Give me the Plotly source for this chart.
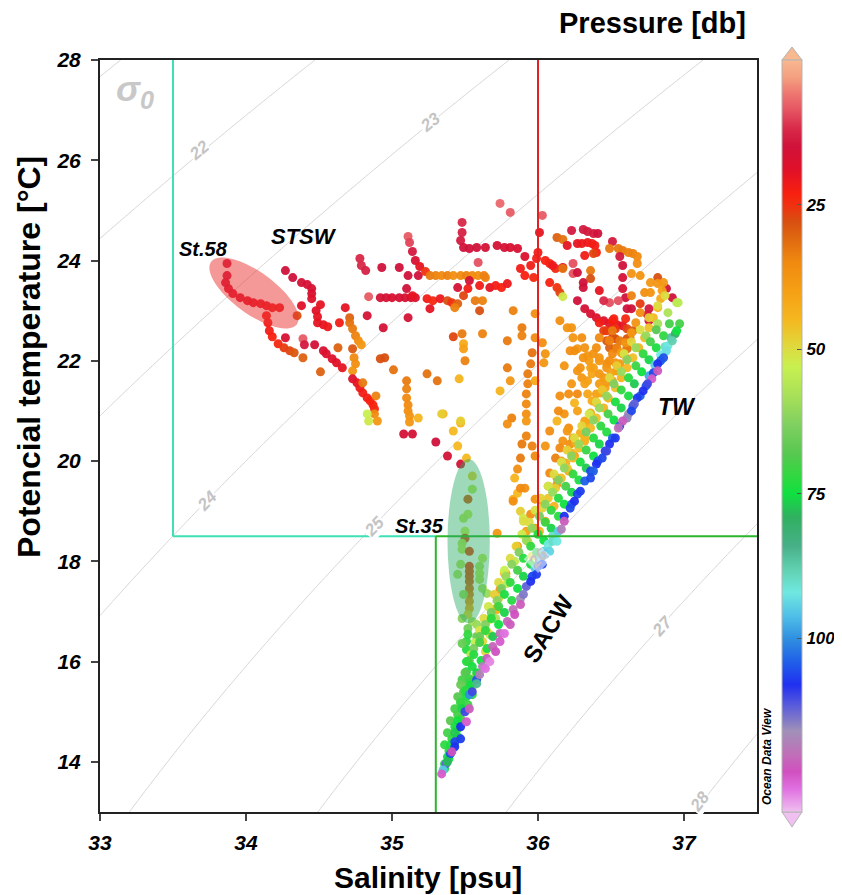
import math
import numpy as np
import plotly.graph_objects as go

# ---------------- data (salinity psu, potential temperature degC, pressure db) ----------------
st58 = [(33.87,23.94,14),(33.87,23.70,15),(33.86,23.56,16),(33.88,23.44,17),(33.91,23.34,18),(33.96,23.26,18),
        (34.01,23.20,19),(34.05,23.16,19),(34.10,23.14,20),(34.14,23.10,20),(34.18,23.06,21),(34.23,23.06,21),
        (34.14,22.90,22),(34.15,22.76,22),(34.16,22.60,22),(34.18,22.48,23),(34.22,22.34,24),(34.26,22.26,26),
        (34.30,22.20,27),(34.33,22.16,29)]

west = [(34.27,23.80,15),(34.32,23.66,15),(34.38,23.56,16),(34.42,23.52,16),(34.45,23.44,17),(34.45,23.34,17),
        (34.45,23.24,18),(34.38,23.10,19),(34.35,22.90,28),(34.48,23.00,19),(34.49,22.88,20),(34.49,22.76,20),
        (34.53,22.72,20),(34.56,22.68,21),(34.51,23.12,20),(34.68,23.06,20),(34.64,22.76,22),(34.71,22.86,30),
        (34.71,22.76,32),(34.73,22.64,33),(34.75,22.50,34),(34.77,22.40,36),(34.79,22.32,38),(34.27,22.46,17),
        (34.39,22.44,8),(34.40,22.32,14),(34.47,22.32,16),(34.53,22.20,17),(34.55,22.14,18),(34.59,22.04,18),
        (34.62,21.96,19),(34.66,21.86,20),(34.39,22.06,30),(34.51,21.78,30),(34.63,22.26,30),(34.73,22.24,29),
        (34.74,22.06,35),(34.75,21.94,36),(34.73,21.80,37),(34.73,21.64,18),(34.76,21.56,20),(34.78,21.46,21),
        (34.80,21.36,22),(34.83,21.26,22),(34.85,21.20,23),(34.87,21.12,23),(34.88,21.04,24),(34.88,20.94,35),
        (34.90,20.80,38),(34.83,20.94,53),(34.84,20.80,52),(34.80,21.56,33),(34.89,21.30,34),(34.92,22.04,28),
        (34.95,22.06,28),(35.01,21.82,32)]

central = [(35.10,21.60,33),(35.10,21.44,34),(35.10,21.26,35),(35.11,21.12,35),(35.11,21.00,36),(35.12,20.90,37),
           (35.12,20.78,38),(35.18,20.86,44),(35.08,20.54,16),(35.14,20.54,16),(35.30,20.38,15),(35.35,20.94,44),
           (35.47,20.76,44),(35.42,20.60,45),(35.24,21.74,32),(35.31,21.60,32),(35.42,22.48,27),(35.48,22.54,33),
           (35.49,22.34,42),(35.49,22.24,40),(35.50,22.00,34),(35.46,21.64,44),(35.62,22.54,34),(34.84,23.28,8),
           (34.83,22.90,16),(34.94,22.66,16),(35.11,22.86,16),(34.78,24.04,12),(34.79,23.90,12),(34.82,23.80,13),
           (34.93,23.86,15),(35.05,23.86,15),(35.11,23.70,15),(35.18,23.70,15),(34.92,23.26,16),(34.96,23.26,16),
           (35.00,23.26,17),(35.05,23.26,16),(35.09,23.26,17),(35.13,23.26,16),(35.16,23.26,18),(35.10,23.44,15),
           (35.24,23.24,22),(35.28,23.20,24),(35.33,23.24,21),(35.38,23.20,28),(35.41,23.16,25),(35.45,23.14,30),
           (35.26,23.04,20),(35.43,23.06,34),(35.49,23.30,27),(35.57,23.20,33),(35.60,23.00,28),(35.62,23.20,34)]

upper = [(35.11,24.48,8),(35.12,24.36,10),(35.14,24.18,14),(35.16,24.00,17),(35.19,23.88,20),(35.23,23.78,25),
         (35.26,23.70,33),(35.30,23.70,34),(35.34,23.70,35),(35.38,23.70,34),(35.42,23.70,36),(35.47,23.70,35),
         (35.51,23.70,34),(35.55,23.70,35),(35.59,23.70,36),(35.63,23.70,34),(35.48,24.76,12),(35.48,24.56,13),
         (35.47,24.40,14),(35.49,24.26,15),(35.53,24.24,15),(35.58,24.26,15),(35.64,24.26,16),(35.72,24.30,16),
         (35.77,24.26,16),(35.81,24.26,17),(35.86,24.24,17),(35.91,24.08,18),(35.74,25.14,7),(35.81,24.96,8),
         (35.59,23.96,9),(35.45,23.46,16),(35.52,23.44,22),(35.60,23.50,22),(35.67,23.46,20),(35.71,23.50,22),
         (35.75,23.46,23),(35.79,23.54,21),(35.64,23.66,34),(35.53,23.60,16),(35.14,23.30,20)]

redline = [(36.03,24.90,8),(36.01,24.56,20),(36.00,24.16,22),(35.99,24.04,22),(36.05,24.00,23),(36.08,23.94,23),
           (36.12,23.84,24),(36.10,23.90,21),(36.17,23.86,20),(35.95,23.90,22),(35.88,23.84,22),(35.91,23.70,23),
           (35.97,23.66,24),(36.13,24.46,30),(36.17,24.42,32),(36.08,23.56,23),(36.13,23.46,25),(36.15,23.36,27),
           (36.17,23.28,52)]

northeast = [(36.23,24.60,14),(36.31,24.62,14),(36.34,24.58,14),(36.38,24.54,14),(36.41,24.54,15),(36.20,24.30,20),
             (36.27,24.34,20),(36.30,24.34,21),(36.34,24.36,21),(36.37,24.34,22),(36.39,24.30,22),(36.40,24.16,23),
             (36.32,24.10,22),(36.38,24.14,27),(36.51,24.38,14),(36.49,24.24,33),(36.55,24.24,33),(36.58,24.20,33),
             (36.62,24.16,34),(36.65,24.14,34),(36.68,24.08,35),(36.56,24.08,14),(36.58,23.90,15),(36.58,23.66,16),
             (36.58,23.44,17),(36.68,23.94,36),(36.64,23.74,37),(36.70,23.70,37),(36.77,23.56,38),(36.82,23.66,28),
             (36.82,23.54,38),(36.88,23.44,15),(36.92,23.26,15),(36.96,23.16,55),(36.24,23.94,9),(36.24,23.74,9),
             (36.27,23.76,15),(36.17,23.84,32),(36.36,23.80,33),(36.36,23.64,28),(36.31,23.56,15),(36.31,23.46,15),
             (36.42,23.40,20),(36.60,23.26,15),(36.64,23.30,34),(36.55,23.20,9),(36.49,23.16,9),(36.45,23.20,12),
             (36.73,23.36,36),(36.77,23.36,37),(36.76,23.04,14),(36.75,22.92,14),(36.76,22.80,14),(36.70,23.14,26),
             (36.64,23.04,15),(36.61,23.04,15),(36.27,23.20,15),(36.32,23.04,16),(36.36,22.94,17),(36.40,22.86,18),
             (36.45,22.80,19),(36.49,22.74,20),(36.54,22.72,20),(36.58,22.70,20),(36.42,22.76,22),(36.45,22.60,26),
             (36.51,22.80,22),(36.51,22.46,27),(36.49,22.26,30)]

middle = [(35.79,22.40,33),(35.83,23.00,34),(35.89,22.66,33),(35.89,22.50,34),(35.96,22.16,32),(35.95,21.94,33),
          (35.93,21.74,33),(35.93,21.54,34),(35.92,21.34,34),(35.92,21.14,35),(35.92,20.94,36),(35.92,20.80,38),
          (35.98,22.94,36),(35.98,22.46,35),(35.98,21.60,42),(36.03,22.36,36),(36.05,22.14,37),(36.04,21.96,38),
          (36.15,22.80,36),(36.20,22.66,37),(36.23,22.66,37),(36.24,22.46,38),(36.27,22.24,38),(36.30,22.46,36),
          (36.32,22.26,37),(36.34,22.10,38),(36.35,22.00,39),(36.36,21.86,40),(36.37,21.74,41),(36.34,21.60,40),
          (35.79,21.86,33),(35.74,21.40,44),(35.81,21.60,38),(35.47,20.80,48),(35.34,20.94,48),(35.82,20.86,34),
          (35.79,20.74,36),(36.21,21.34,36),(36.25,21.16,44),(36.18,20.94,37),(36.13,20.80,44),(36.21,20.66,36),
          (36.38,22.14,37),(36.42,22.06,38),(36.47,21.94,36),(36.38,21.86,40),(36.42,21.74,38),(36.49,21.66,39),
          (36.54,21.80,37),(36.27,21.34,35),(36.27,21.80,37),(36.25,22.20,36),(36.31,22.06,37),(36.20,20.60,38),
          (36.24,20.46,39),(36.17,20.40,37),(36.22,20.34,36),(36.60,22.84,24),(36.61,22.64,27),(36.61,22.44,28),
          (36.61,22.24,29),(36.61,22.04,30),(36.52,22.84,23),(36.53,22.64,25),(36.53,22.44,28),(36.53,22.24,30),
          (36.47,22.60,26),(36.47,22.40,29)]

cloud = [(36.29,21.86,37),(36.30,21.66,38),(36.32,21.54,40),(36.34,21.34,41),(36.37,21.20,42),(36.40,21.34,40),
         (36.42,21.54,39),(36.45,21.66,38),(36.47,21.86,37),(36.49,22.00,36),(36.51,22.14,35),(36.54,22.26,34),
         (36.56,22.40,33),(36.49,22.40,34),(36.51,22.60,33),(36.42,22.46,35),(36.40,22.26,36),(36.42,22.00,38),
         (36.46,21.46,41),(36.48,21.26,42),(36.51,21.60,40),(36.54,21.80,39),(36.56,21.94,38),(36.58,22.14,36),
         (36.61,22.26,33),(36.63,22.46,30),(36.65,22.60,29),(36.22,22.20,36),(36.18,21.90,37),(36.23,21.54,38),
         (36.15,21.30,36),(36.27,21.00,40),(36.32,20.80,41),(36.14,21.00,35),(36.08,20.60,36),(36.05,20.30,37),
         (36.25,20.10,40),(36.21,19.80,42),(36.32,20.40,43),(36.07,19.50,38),(36.03,19.20,40),(36.11,19.10,44),
         (36.05,18.80,42),(36.01,18.60,45),(35.93,18.40,48),(35.96,18.10,50)]

south = [(35.38,20.10,16),(35.47,19.94,16),(35.45,20.30,45),(35.51,20.06,45),(35.92,20.50,34),(35.89,20.34,33),
         (35.96,20.30,34),(35.98,20.10,35),(35.84,19.66,44),(35.86,19.36,45),(35.83,19.24,44),(35.91,19.46,36),
         (35.98,19.24,37),(35.88,19.00,48),(35.90,18.86,52),(35.92,18.60,40),(35.72,18.56,38),(35.86,18.30,38),
         (35.84,18.00,55),(35.78,17.76,40),(35.79,17.56,55),(35.72,17.04,42),(35.71,16.86,58),(35.67,16.54,55),
         (35.64,16.20,50),(35.88,20.06,33),(35.88,19.46,35),(35.83,19.20,36),(35.90,18.80,50),(35.95,18.94,36),
         (35.98,18.66,37),(36.08,19.76,35),(36.13,19.66,36),(36.13,19.54,37),(36.16,20.00,36),(36.15,20.26,35),
         (36.12,20.06,34),(35.86,19.84,36),(35.77,17.76,45),(35.74,17.44,38),(35.73,17.26,48),(35.71,17.06,44),
         (35.67,16.84,52),(35.65,16.60,50),(35.62,16.40,49),(35.58,15.74,50),(35.55,15.50,55),
         (35.51,16.40,72),(35.51,16.24,73),(35.51,16.00,74),(35.51,15.80,73),(35.48,15.64,70),(35.53,15.60,68),
         (35.51,15.46,72),(35.49,15.40,68),(35.47,15.20,66),(35.50,15.06,68),(35.47,14.86,70),(35.45,14.66,72),
         (35.45,14.50,74),(35.43,14.36,76),(35.39,14.06,75),(35.36,13.96,74),(35.53,15.54,70),(35.55,15.34,72),
         (35.52,15.14,70)]

teal = [(36.91,22.46,86),(36.87,22.28,90),(36.84,22.12,92),(36.80,21.92,95),(36.76,21.70,98),
        (36.10,18.50,90),(36.07,18.34,92),(36.04,18.20,94),(36.01,18.04,96),(35.98,17.86,95)]

st35 = [(35.55,19.70,48),(35.55,19.44,56),(35.52,19.24,28),(35.52,18.94,55),(35.49,18.86,56),(35.50,18.60,54),
        (35.50,18.46,27),(35.48,18.36,56),(35.48,18.24,55),(35.53,18.20,26),(35.47,17.94,57),(35.53,17.90,25),
        (35.60,17.90,58),(35.62,18.06,55),(35.60,17.76,56),(35.60,17.64,57),(35.62,17.46,58),(35.65,17.36,60),
        (35.53,17.80,27),(35.53,17.70,27),(35.53,17.60,28),(35.53,17.46,30),(35.53,17.34,32),(35.53,17.20,35),
        (35.53,17.06,40),(35.52,16.94,48),(35.55,16.80,58),(35.58,16.74,60),(35.45,17.74,58),(35.49,17.34,60),
        (35.48,16.86,62),(35.52,16.66,65),(35.52,16.54,72),(35.58,16.50,66),(35.48,16.36,66)]

orange2_sal = [36.70,36.67,36.64,36.60,36.57,36.53,36.50,36.47,36.43,36.40,36.36,36.33,36.29,36.26,36.23,36.19]
orange2_temp = [22.96,22.76,22.56,22.36,22.16,21.96,21.76,21.56,21.36,21.16,20.96,20.76,20.56,20.36,20.16,19.96]
orange2_pres = [36,37,38,37,39,38,40,39,41,40,42,41,43,42,44,43]

orange1_sal = [36.86,36.85,36.84,36.82,36.79,36.76,36.73,36.69,36.65,36.61,36.57,36.53,36.48,36.45,36.40,36.36,
               36.32,36.28,36.24,36.20,36.16,36.12,36.07,36.03]
orange1_temp = [23.56,23.40,23.24,23.06,22.86,22.66,22.46,22.26,22.06,21.86,21.66,21.46,21.26,21.06,20.86,20.66,
                20.46,20.26,20.06,19.86,19.66,19.46,19.26,19.06]
orange1_pres = [38,40,42,44,45,46,45,44,46,45,44,46,45,44,46,45,44,46,45,47,46,48,47,49]

yellow_sal = [36.87,36.82,36.76,36.70,36.64,36.59,36.54,36.49,36.44,36.40,36.35,36.30,36.25,36.20,36.16,36.11,
              36.07,36.02,35.98,35.94,35.89,35.85,35.81,35.77,35.73,35.70,35.66,35.63,35.60,35.57,35.54]
yellow_temp = [23.30,23.10,22.86,22.62,22.38,22.14,21.90,21.66,21.42,21.18,20.94,20.70,20.46,20.22,19.98,19.74,
               19.50,19.26,19.02,18.78,18.54,18.30,18.06,17.82,17.58,17.34,17.10,16.86,16.62,16.38,16.14]
yellow_pres = [50,50,48,50,49,51,48,50,47,50,52,49,50,48,51,50,52,49,51,50,52,48,50,53,50,48,52,50,51,54,56]

lgreen_sal = [36.95,36.89,36.82,36.74,36.67,36.61,36.57,36.52,36.47,36.42,36.38,36.33,36.28,36.23,36.18,36.14,
              36.10,36.05,36.01,35.96,35.92,35.87,35.82,35.78,35.75,35.72,35.68,35.64,35.60,35.56,35.53,35.50,
              35.47,35.45,35.43,35.40,35.38,35.36]
lgreen_temp = [23.16,22.96,22.74,22.50,22.26,22.02,21.78,21.54,21.30,21.06,20.82,20.58,20.34,20.10,19.86,19.62,
               19.38,19.14,18.90,18.66,18.42,18.18,17.94,17.70,17.46,17.22,16.98,16.74,16.50,16.26,16.02,15.78,
               15.54,15.30,15.06,14.82,14.58,14.34]
lgreen_pres = [55,57,58,60,60,62,60,63,61,60,62,64,60,62,61,63,60,62,64,61,60,63,62,60,64,62,65,63,66,64,66,68,
               66,68,70,68,70,72]

green2_sal = [36.81,36.77,36.72,36.67,36.62,36.57,36.53,36.48,36.43,36.38,36.33,36.29,36.24,36.19,36.14,36.09,
              36.05,36.00,35.95,35.90,35.86,35.81,35.77,35.73,35.68,35.64,35.60,35.56,35.52,35.55,35.53,35.50,
              35.47,35.45,35.43,35.41,35.39]
green2_temp = [22.62,22.38,22.14,21.90,21.66,21.42,21.18,20.94,20.70,20.46,20.22,19.98,19.74,19.50,19.26,19.02,
               18.78,18.54,18.30,18.06,17.82,17.58,17.34,17.10,16.86,16.62,16.38,16.14,16.00,15.90,15.66,15.42,
               15.18,14.94,14.70,14.46,14.22]
green2_pres = [68,70,72,71,73,72,74,70,72,73,71,74,72,70,73,72,71,74,72,73,70,72,74,71,73,72,70,73,72,74,71,73,
               72,70,74,72,73]

green_sal = [36.90,36.86,36.81,36.76,36.71,36.66,36.62,36.57,36.52,36.47,36.42,36.38,36.33,36.28,36.23,36.18,
             36.14,36.09,36.04,35.99,35.95,35.90,35.86,35.82,35.77,35.73,35.69,35.65,35.61,35.58,35.54,35.51,
             35.48,35.45,35.43,35.40,35.38,35.36]
green_temp = [22.74,22.50,22.26,22.02,21.78,21.54,21.30,21.06,20.82,20.58,20.34,20.10,19.86,19.62,19.38,19.14,
              18.90,18.66,18.42,18.18,17.94,17.70,17.46,17.22,16.98,16.74,16.50,16.26,16.02,15.78,15.54,15.30,
              15.06,14.82,14.58,14.34,14.10,13.86]
green_pres = [70,72,74,76,75,77,74,76,75,73,76,75,77,74,76,75,73,76,75,77,74,76,75,73,76,75,77,74,75,76,75,74,
              76,75,77,74,76,75]

deep2_sal = [36.94,36.89,36.84,36.79,36.74,36.70,36.65,36.62,36.56,36.51,36.46,36.41,36.36,36.32,36.27,36.23,
             36.18,36.14,36.10,36.05,36.00,35.96,35.92,35.88,35.83,35.79,35.74,35.69,35.65,35.62,35.58,35.53,
             35.50,35.47,35.43,35.40,35.37]
deep2_temp = [22.54,22.30,22.00,21.76,21.50,21.30,21.10,20.94,20.70,20.46,20.20,20.00,19.80,19.60,19.34,19.14,
              18.90,18.60,18.40,18.14,17.90,17.70,17.50,17.26,17.04,16.80,16.56,16.30,16.06,15.90,15.64,15.34,
              15.00,14.70,14.40,14.16,13.96]
deep2_pres = [80,92,104,106,105,104,104,116,105,104,106,105,106,104,106,104,108,95,90,100,104,106,112,116,120,
              121,120,121,122,118,105,100,110,108,106,105,112]

deep1_sal = [36.97,36.95,36.92,36.88,36.86,36.82,36.82,36.78,36.75,36.72,36.68,36.66,36.64,36.61,36.58,36.55,
             36.53,36.49,36.47,36.44,36.40,36.38,36.36,36.29,36.25,36.22,36.18,36.16,36.13,36.08,36.03,35.99,
             35.95,35.90,35.88,35.84,35.81,35.77,35.74,35.71,35.67,35.64,35.60,35.58,35.55,35.53,35.51,35.47,
             35.43,35.41,35.38,35.35,35.34]
deep1_temp = [22.74,22.60,22.40,22.20,22.06,21.94,21.80,21.64,21.54,21.40,21.26,21.14,21.00,20.86,20.80,20.66,
              20.46,20.34,20.20,20.06,19.94,19.80,19.66,19.40,19.20,19.06,18.80,18.64,18.40,18.20,17.94,17.74,
              17.60,17.34,17.14,16.94,16.74,16.56,16.40,16.20,16.00,15.86,15.74,15.56,15.40,15.06,14.80,14.46,
              14.30,14.20,14.00,13.84,13.76]
deep1_pres = [70,75,88,93,105,108,122,124,110,108,107,112,106,115,122,120,107,108,110,106,108,104,106,107,108,
              106,122,118,92,94,106,107,108,114,122,123,122,126,124,123,127,126,118,85,110,122,124,107,108,123,
              78,95,124]

isopycnal_levels = ['22', '23', '24', '25', '26', '27', '28']
label_sal = [33.68, 35.26, 33.73, 34.88, 36.00, 36.85, 37.11]
label_temp = [26.20, 26.76, 19.20, 18.70, 18.06, 16.70, 13.20]
cbar_ticks = [25, 50, 75, 100]

# ---------------- assemble ----------------
sal, temp, pres = [], [], []
for grp in [st58, west, central, upper, redline, northeast, middle, cloud, south, st35]:
    for s, t, p in grp:
        sal.append(s); temp.append(t); pres.append(p)
for s_l, t_l, p_l in [(orange2_sal, orange2_temp, orange2_pres), (orange1_sal, orange1_temp, orange1_pres),
                      (yellow_sal, yellow_temp, yellow_pres), (lgreen_sal, lgreen_temp, lgreen_pres),
                      (green2_sal, green2_temp, green2_pres), (green_sal, green_temp, green_pres)]:
    n = min(len(s_l), len(t_l), len(p_l))
    sal += s_l[:n]; temp += t_l[:n]; pres += p_l[:n]
for s, t, p in teal:
    sal.append(s); temp.append(t); pres.append(p)
for s_l, t_l, p_l in [(deep2_sal, deep2_temp, deep2_pres), (deep1_sal, deep1_temp, deep1_pres)]:
    n = min(len(s_l), len(t_l), len(p_l))
    sal += s_l[:n]; temp += t_l[:n]; pres += p_l[:n]

P_MAX = 130.0
stops = [(0, '#f8b890'), (3, '#f4a080'), (6, '#ee7470'), (9, '#e45060'), (12, '#d82848'), (15, '#d0123a'),
         (19, '#e01028'), (23, '#f82010'), (25, '#f03010'), (28, '#d85010'), (31, '#e06a10'), (35, '#f08a10'),
         (40, '#f5a015'), (45, '#f5b820'), (50, '#dcdc40'), (53, '#c8f050'), (58, '#a8e058'), (63, '#80d060'),
         (68, '#58c850'), (72, '#30d840'), (75, '#10e040'), (79, '#30b060'), (84, '#48b088'), (88, '#60d0b0'),
         (92, '#70e8e0'), (96, '#50c0e8'), (100, '#3090e0'), (104, '#2060e8'), (108, '#2030f0'), (112, '#6060d8'),
         (116, '#a090b8'), (120, '#c070b8'), (123, '#d050c0'), (126, '#e070e0'), (130, '#f0c0f0')]
colorscale = sorted([[1 - p / P_MAX, c] for p, c in stops], key=lambda v: v[0])
colorscale[0][0] = 0.0
colorscale[-1][0] = 1.0


def sigma0(S, T):
    rw = (999.842594 + 6.793952e-2 * T - 9.095290e-3 * T ** 2 + 1.001685e-4 * T ** 3
          - 1.120083e-6 * T ** 4 + 6.536332e-9 * T ** 5)
    A = 8.24493e-1 - 4.0899e-3 * T + 7.6438e-5 * T ** 2 - 8.2467e-7 * T ** 3 + 5.3875e-9 * T ** 4
    B = -5.72466e-3 + 1.0227e-4 * T - 1.6546e-6 * T ** 2
    return rw + A * S + B * S ** 1.5 + 4.8314e-4 * S ** 2 - 1000.0


X0, X1, Y0, Y1 = 33.0, 37.5, 13.0, 28.0
# the page body has an 8 px margin, so the figure is drawn 8 px right/down of the window corner
BODY = 8
SL, ST, PW, PH = 100, 60, 657, 752          # plot area in window pixels
SB = ST + PH
W, H = 842 - BODY, 895 - BODY
ML, MT = SL - BODY, ST - BODY
MR, MB = W - ML - PW, H - MT - PH
xpx = PW / (X1 - X0)
ypx = PH / (Y1 - Y0)


def pxx(x):
    return (x - SL) / PW


def pxy(y):
    return (SB - y) / PH


sg = np.linspace(X0, X1, 220)
tg = np.linspace(Y0, Y1, 220)
SS, TT = np.meshgrid(sg, tg)
Z = sigma0(SS, TT)

FONT = "Arial, Liberation Sans, sans-serif"

fig = go.Figure()
fig.add_trace(go.Contour(x=sg, y=tg, z=Z, showscale=False, hoverinfo='skip',
                         contours=dict(start=21, end=29, size=1, coloring='none', showlabels=False),
                         line=dict(color='#d6d6d6', width=1)))

fig.add_trace(go.Scatter(
    x=sal, y=temp, mode='markers', hoverinfo='skip',
    marker=dict(size=9, color=[-p for p in pres], cmin=-P_MAX, cmax=0, colorscale=colorscale,
                line=dict(width=0), opacity=0.95,
                colorbar=dict(x=pxx(782), xanchor='left', xpad=0, y=0.5, yanchor='middle', len=1.0,
                              ypad=0, thickness=20, outlinewidth=1, outlinecolor='#b5b5b5',
                              tickvals=[-v for v in cbar_ticks], ticktext=[str(v) for v in cbar_ticks],
                              ticks='inside', ticklen=5, tickcolor='#555',
                              tickfont=dict(family=FONT, size=17, color='black', weight='bold', style='italic')))))

# water-mass boundaries
shapes = [
    dict(type='line', x0=33.5, x1=33.5, y0=18.5, y1=28, line=dict(color='#3fe0b5', width=2)),
    dict(type='line', x0=33.5, x1=35.3, y0=18.5, y1=18.5, line=dict(color='#3fe0b5', width=2)),
    dict(type='line', x0=35.3, x1=37.5, y0=18.5, y1=18.5, line=dict(color='#2db52d', width=2)),
    dict(type='line', x0=35.3, x1=35.3, y0=13, y1=18.5, line=dict(color='#2db52d', width=2)),
    dict(type='line', x0=36.0, x1=36.0, y0=18.5, y1=28, line=dict(color='#e52020', width=2)),
]
for s in shapes:
    s.update(xref='x', yref='y', layer='above')

# St.35 ellipse (axis aligned)
shapes.append(dict(type='circle', xref='x', yref='y', x0=35.38, x1=35.67, y0=16.76, y1=20.04,
                   fillcolor='rgba(40,170,100,0.45)', line=dict(width=0), layer='above'))
# St.58 tilted ellipse (window-pixel geometry converted to data units)
cxp, cyp, ea, eb, th = 254, 293, 53, 21, math.radians(36)
pts = []
for k in range(73):
    t = 2 * math.pi * k / 72
    px = cxp + ea * math.cos(t) * math.cos(th) - eb * math.sin(t) * math.sin(th)
    py = cyp + ea * math.cos(t) * math.sin(th) + eb * math.sin(t) * math.cos(th)
    pts.append((X0 + (px - SL) / xpx, Y1 - (py - ST) / ypx))
path = 'M ' + ' L '.join(f'{a:.4f},{b:.4f}' for a, b in pts) + ' Z'
shapes.append(dict(type='path', xref='x', yref='y', path=path, fillcolor='rgba(235,50,50,0.5)',
                   line=dict(width=0), layer='above'))

# colorbar extension triangles
cbx0, cbx1 = pxx(782), pxx(802)
cbxm = (cbx0 + cbx1) / 2
shapes.append(dict(type='path', xref='paper', yref='paper',
                   path=f'M {cbx0},1 L {cbx1},1 L {cbxm},{pxy(ST - 13)} Z',
                   fillcolor='#f8b890', line=dict(color='#b5b5b5', width=1)))
shapes.append(dict(type='path', xref='paper', yref='paper',
                   path=f'M {cbx0},0 L {cbx1},0 L {cbxm},{pxy(SB + 15)} Z',
                   fillcolor='#f0c0f0', line=dict(color='#b5b5b5', width=1)))

annotations = []
# isopycnal labels
for txt, s0, t0 in zip(isopycnal_levels, label_sal, label_temp):
    e = 1e-3
    dS = (sigma0(s0 + e, t0) - sigma0(s0 - e, t0)) / (2 * e)
    dT = (sigma0(s0, t0 + e) - sigma0(s0, t0 - e)) / (2 * e)
    slope = (-dS / dT) * ypx / xpx
    ang = math.degrees(math.atan(slope))
    bg = 'rgba(255,255,255,0.55)' if txt == '26' else 'white'
    annotations.append(dict(x=s0, y=t0, xref='x', yref='y', text=txt, showarrow=False, textangle=-ang,
                            xanchor='center', yanchor='middle', bgcolor=bg, borderpad=0,
                            font=dict(family=FONT, size=17, color='#c4c4c4', weight='bold', style='italic')))

lab = dict(family=FONT, color='black', weight='bold', style='italic')


def ann(x, y, text, font, ref='x', **kw):
    d = dict(x=x, y=y, xref='x' if ref == 'x' else 'paper', yref='y' if ref == 'x' else 'paper',
             text=text, showarrow=False, xanchor='center', yanchor='middle', font=font)
    d.update(kw)
    return d


annotations += [
    ann(33.24, 27.38, 'σ<sub>0</sub>', dict(family=FONT, size=36, color='#c8c8c8', weight='bold', style='italic')),
    ann(33.71, 24.24, 'St.58', dict(size=20, **lab)),
    ann(34.40, 24.48, 'STSW', dict(size=22, **lab)),
    ann(35.19, 18.70, 'St.35', dict(size=20, **lab)),
    ann(36.95, 21.08, 'TW', dict(size=23, **lab)),
    ann(36.07, 16.66, 'SACW', dict(family=FONT, size=24, color='black', weight='bold'), textangle=-59),
    ann(pxx(748), pxy(23), 'Pressure [db]',
        dict(family=FONT, size=29, color='black', weight='bold'), ref='paper', xanchor='right'),
    ann(pxx(767), pxy(757), 'Ocean Data View',
        dict(family=FONT, size=12, color='black', weight='bold', style='italic'), ref='paper', textangle=-90),
    ann(pxx(428), pxy(877), 'Salinity [psu]',
        dict(family=FONT, size=30, color='black', weight='bold'), ref='paper'),
    ann(pxx(29), pxy(357), 'Potencial temperature [°C]',
        dict(family=FONT, size=32, color='black', weight='bold'), ref='paper', textangle=-90),
]

axis_common = dict(showgrid=False, zeroline=False, showline=True, linecolor='#222', linewidth=2, mirror=True,
                   ticks='outside', ticklen=7, tickwidth=1.5, tickcolor='#444',
                   tickfont=dict(family=FONT, size=21, color='black', weight='bold', style='italic'))

fig.update_layout(
    width=W, height=H, margin=dict(l=ML, r=MR, t=MT, b=MB, autoexpand=False),
    plot_bgcolor='white', paper_bgcolor='white', showlegend=False,
    xaxis=dict(range=[X0, X1], tickvals=[33, 34, 35, 36, 37], ticklabelstandoff=4, **axis_common),
    yaxis=dict(range=[Y0, Y1], tickvals=[14, 16, 18, 20, 22, 24, 26, 28], ticklabelstandoff=6, **axis_common),
    shapes=shapes, annotations=annotations,
)

fig.write_html("out.html")
